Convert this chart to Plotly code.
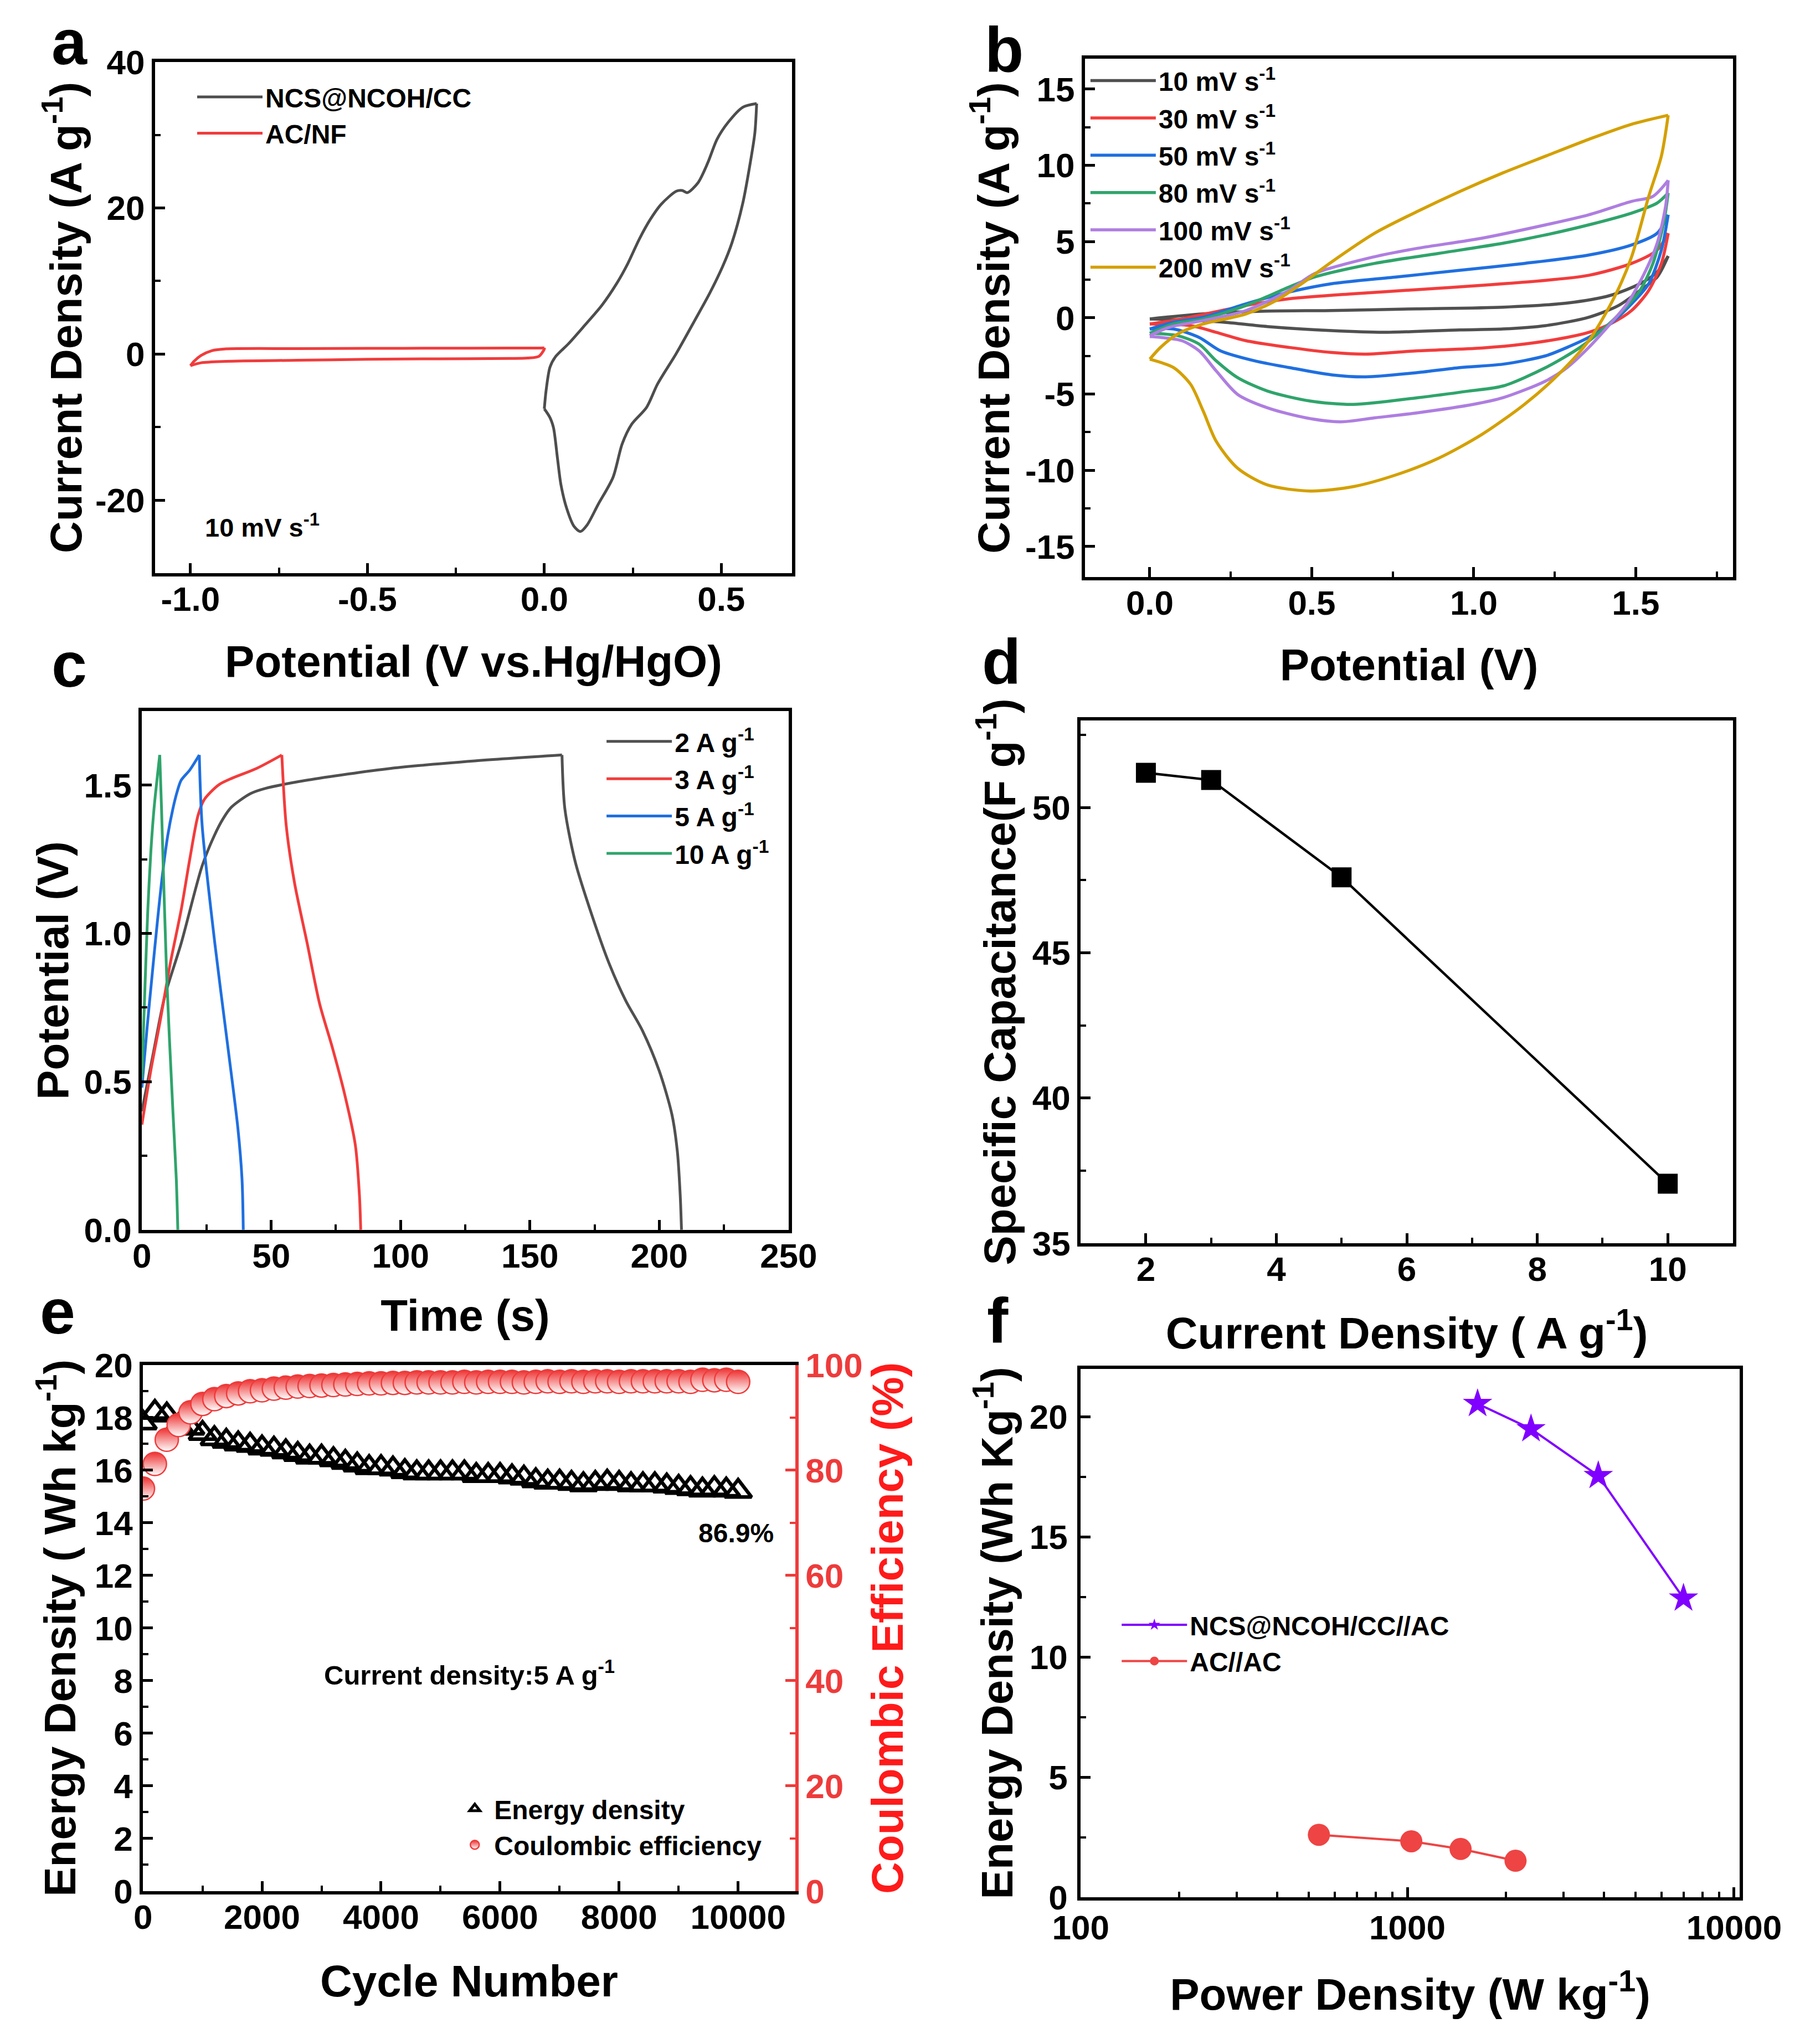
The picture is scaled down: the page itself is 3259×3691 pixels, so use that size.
import plotly.graph_objects as go

# ---------------- Panel a : CV of electrodes at 10 mV/s ----------------
a_ncs_v = [0, 0.005, 0.016, 0.031, 0.068, 0.11, 0.163, 0.205, 0.236, 0.268, 0.299, 0.33, 0.373, 0.39, 0.404,
           0.435, 0.462, 0.488, 0.519, 0.561, 0.6,
           0.595, 0.582, 0.561, 0.53, 0.504, 0.467, 0.425, 0.3725, 0.32, 0.289, 0.247, 0.22, 0.194, 0.152,
           0.121, 0.102, 0.084, 0.063, 0.047, 0.037, 0.026, 0.016, 0]
a_ncs_j = [-7.5, -5.0, -1.8, -0.4, 1.4, 3.7, 6.7, 9.7, 12.4, 15.7, 18.4, 20.5, 22.3, 22.4, 22.1,
           23.5, 26.2, 29.4, 31.7, 33.8, 34.3,
           30.3, 26.2, 20.7, 15.2, 12.0, 8.3, 4.6, 0.05, -4.1, -7.3, -9.6, -12.3, -16.9, -20.6,
           -23.4, -24.3, -23.6, -21.1, -17.9, -14.2, -10.1, -8.7, -7.5]
a_ac_v = [-1.0, -0.99, -0.97, -0.94, -0.9, -0.7, -0.5, -0.3, -0.1, -0.02, 0.0,
          0.0, -0.015, -0.047, -0.1, -0.3, -0.5, -0.7, -0.9, -0.97, -1.0]
a_ac_j = [-1.6, -1.0, -0.2, 0.45, 0.7, 0.75, 0.78, 0.8, 0.82, 0.83, 0.85,
          0.7, -0.3, -0.55, -0.6, -0.65, -0.72, -0.85, -1.0, -1.2, -1.6]

# ---------------- Panel b : CV at different scan rates ----------------
b10_v = [0, 0.165, 0.363, 0.562, 0.826, 1.090, 1.288, 1.421, 1.513, 1.566, 1.6,
         1.566, 1.513, 1.447, 1.355, 1.222, 1.090, 0.958, 0.720, 0.562, 0.363, 0.231, 0.099, 0]
b10_j = [-0.07, 0.26, 0.44, 0.48, 0.59, 0.70, 0.97, 1.47, 2.24, 3.01, 4.05,
         2.68, 1.80, 0.81, 0.04, -0.51, -0.73, -0.79, -0.95, -0.84, -0.57, -0.29, -0.13, -0.07]
b30_v = [0, 0.099, 0.297, 0.430, 0.628, 0.826, 1.024, 1.222, 1.355, 1.487, 1.566, 1.6,
         1.579, 1.540, 1.487, 1.421, 1.355, 1.288, 1.156, 1.024, 0.826, 0.667, 0.562, 0.430, 0.297, 0.205, 0.126, 0]
b30_j = [-0.40, -0.07, 0.81, 1.25, 1.58, 1.85, 2.13, 2.46, 2.79, 3.57, 4.45, 5.55,
         3.57, 1.80, 0.48, -0.40, -0.95, -1.28, -1.72, -1.98, -2.16, -2.38, -2.27, -1.94, -1.50, -0.95, -0.51, -0.40]
b50_v = [0, 0.073, 0.165, 0.297, 0.430, 0.562, 0.760, 0.958, 1.156, 1.355, 1.487, 1.566, 1.6,
         1.579, 1.540, 1.487, 1.421, 1.355, 1.288, 1.222, 1.090, 0.958, 0.826, 0.667, 0.562, 0.430, 0.324,
         0.218, 0.152, 0.073, 0]
b50_j = [-0.73, -0.29, 0.04, 0.92, 1.69, 2.24, 2.68, 3.12, 3.57, 4.12, 4.78, 5.55, 6.76,
         4.45, 2.24, 0.92, -0.40, -1.28, -1.94, -2.49, -3.04, -3.26, -3.59, -3.87, -3.74, -3.26, -2.82,
         -2.16, -1.28, -0.73, -0.73]
b80_v = [0, 0.073, 0.165, 0.297, 0.430, 0.509, 0.694, 0.892, 1.090, 1.222, 1.355, 1.487, 1.566, 1.6,
         1.586, 1.553, 1.513, 1.460, 1.394, 1.328, 1.222, 1.090, 0.985, 0.826, 0.628, 0.496, 0.363, 0.271,
         0.205, 0.152, 0.086, 0]
b80_j = [-1.01, -0.40, -0.07, 0.81, 2.02, 2.68, 3.57, 4.23, 4.89, 5.44, 6.10, 6.87, 7.53, 8.19,
         6.21, 3.57, 1.80, 0.48, -0.84, -1.94, -3.26, -4.47, -4.80, -5.24, -5.68, -5.46, -4.80, -3.92,
         -2.82, -1.72, -1.17, -1.01]
b100_v = [0, 0.059, 0.165, 0.297, 0.430, 0.509, 0.694, 0.826, 1.024, 1.222, 1.355, 1.487, 1.553, 1.6,
          1.592, 1.566, 1.526, 1.473, 1.421, 1.355, 1.288, 1.222, 1.090, 0.998, 0.826, 0.694, 0.588, 0.482,
          0.363, 0.271, 0.205, 0.152, 0.099, 0.033, 0]
b100_j = [-1.17, -0.62, -0.18, 0.48, 1.80, 2.90, 4.01, 4.56, 5.22, 6.10, 6.76, 7.64, 7.97, 9.02,
          7.31, 4.89, 2.90, 0.92, -0.40, -1.94, -3.26, -4.14, -5.24, -5.68, -6.23, -6.56, -6.82, -6.56,
          -5.90, -5.02, -3.48, -2.16, -1.50, -1.28, -1.23]
b200_v = [0, 0.033, 0.086, 0.165, 0.297, 0.390, 0.469, 0.562, 0.694, 0.826, 0.958, 1.090, 1.222, 1.355,
          1.487, 1.6,
          1.579, 1.540, 1.487, 1.434, 1.355, 1.262, 1.156, 1.024, 0.892, 0.760, 0.628, 0.496, 0.363, 0.271,
          0.205, 0.165, 0.126, 0.073, 0]
b200_j = [-2.71, -1.94, -1.06, -0.40, 0.26, 1.14, 2.24, 3.68, 5.55, 6.98, 8.30, 9.51, 10.61, 11.71,
          12.70, 13.29,
          10.61, 7.97, 4.0, 1.36, -1.50, -3.70, -5.68, -7.66, -9.20, -10.30, -11.07, -11.36, -10.96, -9.86,
          -8.10, -6.12, -4.36, -3.26, -2.71]
b_names = ["10 mV s<sup>-1</sup>", "30 mV s<sup>-1</sup>", "50 mV s<sup>-1</sup>",
           "80 mV s<sup>-1</sup>", "100 mV s<sup>-1</sup>", "200 mV s<sup>-1</sup>"]

# ---------------- Panel c : GCD curves ----------------
c2_t = [0, 4.5, 8.8, 15.2, 23.3, 28.0, 31.4, 34.5, 37.9, 42.0, 47.6, 63.9, 96.3, 128.7, 162.4,
        163.5, 167.6, 174.1, 180.6, 187.0, 193.5, 200.0, 204.9, 207.0, 208.1, 208.6]
c2_v = [0.40, 0.60, 0.786, 0.967, 1.228, 1.33, 1.387, 1.425, 1.449, 1.472, 1.489, 1.517, 1.557, 1.582, 1.602,
        1.421, 1.239, 1.058, 0.899, 0.774, 0.672, 0.536, 0.389, 0.264, 0.117, 0.0]
c3_t = [0, 3.5, 7.1, 11.0, 15.2, 18.5, 21.7, 24.0, 26.6, 30.0, 34.7, 44.4, 54.1,
        55.8, 59.0, 63.9, 68.7, 73.6, 78.4, 82.5, 84.1, 84.6]
c3_v = [0.355, 0.54, 0.706, 0.90, 1.08, 1.25, 1.398, 1.45, 1.477, 1.503, 1.523, 1.557, 1.602,
        1.364, 1.171, 0.967, 0.763, 0.616, 0.457, 0.287, 0.117, 0.0]
c5_t = [0, 2.0, 3.9, 6.0, 7.9, 10.0, 12.0, 13.7, 15.2, 18.5, 22.2,
        23.3, 28.2, 33.1, 37.1, 38.7, 39.2]
c5_v = [0.48, 0.68, 0.854, 1.04, 1.194, 1.33, 1.421, 1.48, 1.517, 1.551, 1.602,
        1.364, 0.967, 0.627, 0.344, 0.173, 0.0]
c10_t = [0, 1.2, 2.3, 3.5, 4.7, 6.9, 7.6, 9.6, 12.0, 13.3, 13.9]
c10_v = [0.51, 0.82, 1.08, 1.28, 1.421, 1.602, 1.42, 0.854, 0.40, 0.173, 0.0]
c_names = ["2 A g<sup>-1</sup>", "3 A g<sup>-1</sup>", "5 A g<sup>-1</sup>", "10 A g<sup>-1</sup>"]

# ---------------- Panel d : rate capability ----------------
d_current = [2, 3, 5, 10]
d_cap = [51.2, 50.95, 47.6, 37.05]

# ---------------- Panel e : cycling ----------------
e_cycle = [0, 200, 400, 600, 800, 1000, 1200, 1400, 1600, 1800, 2000, 2200, 2400, 2600, 2800, 3000,
           3200, 3400, 3600, 3800, 4000, 4200, 4400, 4600, 4800, 5000, 5200, 5400, 5600, 5800, 6000,
           6200, 6400, 6600, 6800, 7000, 7200, 7400, 7600, 7800, 8000, 8200, 8400, 8600, 8800, 9000,
           9200, 9400, 9600, 9800, 10000]
e_energy = [17.8, 18.2, 18.1, 17.7, 17.6, 17.4, 17.2, 17.1, 17.0, 16.95, 16.85, 16.8, 16.7, 16.6, 16.5,
            16.5, 16.4, 16.3, 16.2, 16.1, 16.1, 16.05, 15.95, 15.9, 15.9, 15.9, 15.9, 15.9, 15.8, 15.8,
            15.8, 15.75, 15.7, 15.6, 15.55, 15.55, 15.5, 15.45, 15.5, 15.55, 15.5, 15.45, 15.45, 15.45,
            15.4, 15.35, 15.3, 15.25, 15.3, 15.25, 15.2]
e_ce = [76.5, 81.2, 85.8, 88.6, 91.0, 92.6, 93.5, 94.1, 94.6, 95.0, 95.2, 95.5, 95.7, 95.9, 96.0, 96.1,
        96.2, 96.3, 96.4, 96.5, 96.5, 96.6, 96.6, 96.7, 96.7, 96.7, 96.7, 96.8, 96.7, 96.8, 96.8, 96.8,
        96.7, 96.8, 96.9, 96.8, 96.9, 96.8, 96.9, 96.9, 96.8, 96.9, 96.9, 96.9, 96.9, 96.9, 96.8, 97.2,
        97.1, 97.2, 96.8]

# ---------------- Panel f : Ragone ----------------
f_ncs_power = [1640, 2390, 3840, 7000]
f_ncs_energy = [20.55, 19.5, 17.55, 12.45]
f_ac_power = [536, 1028, 1455, 2143]
f_ac_energy = [2.6, 2.33, 2.01, 1.52]

FONT = "Liberation Sans, Arial, Helvetica, sans-serif"
TICK = 62
TITLE = 80
LEG = 48

fig = go.Figure()


def add_loop(x, y, split, name, color, width, xa, ya, leg):
    """Draw a closed curve as two smooth branches split at a turning vertex."""
    branches = [(x[:split + 1], y[:split + 1]), (x[split:], y[split:])]
    for k, (bx, by) in enumerate(branches):
        fig.add_trace(go.Scatter(x=bx, y=by, mode="lines", name=name, showlegend=(k == 0),
                                 legendgroup=name, line=dict(color=color, width=width, shape="spline",
                                                             smoothing=0.8),
                                 xaxis=xa, yaxis=ya, legend=leg))


# panel a
add_loop(a_ncs_v, a_ncs_j, a_ncs_v.index(max(a_ncs_v)), "NCS@NCOH/CC", "#4d4d4d", 5, "x", "y", "legend")
add_loop(a_ac_v, a_ac_j, a_ac_v.index(max(a_ac_v)), "AC/NF", "#f03c3c", 5, "x", "y", "legend")

# panel b
b_cols = ["#505050", "#f23c3c", "#1f6fe0", "#2fa46b", "#ae7ee0", "#d4a000"]
for nm, vv, jj, col in zip(b_names, [b10_v, b30_v, b50_v, b80_v, b100_v, b200_v],
                           [b10_j, b30_j, b50_j, b80_j, b100_j, b200_j], b_cols):
    add_loop(vv, jj, vv.index(max(vv)), nm, col, 5.5, "x2", "y2", "legend2")

# panel c
c_cols = ["#505050", "#f23c3c", "#1f6fe0", "#2fa46b"]
for nm, tt, vv, col in zip(c_names, [c2_t, c3_t, c5_t, c10_t], [c2_v, c3_v, c5_v, c10_v], c_cols):
    add_loop(tt, vv, vv.index(max(vv)), nm, col, 5, "x3", "y3", "legend3")

# panel d
fig.add_trace(go.Scatter(x=d_current, y=d_cap, mode="lines+markers", showlegend=False,
                         line=dict(color="black", width=4.5),
                         marker=dict(symbol="square", size=36, color="black"),
                         xaxis="x4", yaxis="y4"))

# panel e
fig.add_trace(go.Scatter(x=e_cycle, y=e_energy, mode="markers", name="Energy density",
                         marker=dict(symbol="triangle-up-open", size=42, color="black",
                                     line=dict(color="black", width=6.5)),
                         xaxis="x5", yaxis="y5", legend="legend5", legendgroup="ed"))
fig.add_trace(go.Scatter(x=e_cycle, y=e_ce, mode="markers", name="Coulombic efficiency",
                         marker=dict(symbol="circle", size=42, color="#ee3030",
                                     gradient=dict(type="vertical", color="white"),
                                     line=dict(color="#ee3b3b", width=2.5)),
                         xaxis="x5", yaxis="y7", legend="legend5", legendgroup="ce"))

# panel f
fig.add_trace(go.Scatter(x=f_ncs_power, y=f_ncs_energy, mode="lines+markers", name="NCS@NCOH/CC//AC",
                         line=dict(color="#8000ff", width=4),
                         marker=dict(symbol="star", size=40, color="#8000ff"),
                         xaxis="x6", yaxis="y6", legend="legend6", legendgroup="f1"))
fig.add_trace(go.Scatter(x=f_ac_power, y=f_ac_energy, mode="lines+markers", name="AC//AC",
                         line=dict(color="#ee4444", width=4),
                         marker=dict(symbol="circle", size=40, color="#ee4444"),
                         xaxis="x6", yaxis="y6", legend="legend6", legendgroup="f2"))


def ax(domain, rng, title, dtick=None, minor_dtick=None, anchor=None, standoff=20, **kw):
    d = dict(domain=domain, range=rng, showline=True, linewidth=6, linecolor="black", mirror=True,
             ticks="inside", ticklen=18, tickwidth=5, tickcolor="black", automargin=False,
             tickfont=dict(size=TICK, family=FONT, color="black", weight="bold"),
             showgrid=False, zeroline=False, anchor=anchor,
             title=dict(text=title, font=dict(size=TITLE, family=FONT, color="black", weight="bold"),
                        standoff=standoff))
    if dtick is not None:
        d["dtick"] = dtick
    if minor_dtick is not None:
        d["minor"] = dict(ticks="inside", ticklen=10, tickwidth=4, tickcolor="black",
                          dtick=minor_dtick, showgrid=False)
    d.update(kw)
    return d


XL = -12  # tick labels of x axes sit a little closer to the frame

layout = dict(
    width=3259, height=3691, margin=dict(l=0, r=0, t=0, b=0, autoexpand=False),
    paper_bgcolor="white", plot_bgcolor="white",
    font=dict(family=FONT, color="black", weight="bold"),
    xaxis=ax([0.0859, 0.4388], [-1.1, 0.7], "Potential (V vs.Hg/HgO)", 0.5, 0.25, "y", standoff=53,
             ticklabelstandoff=XL,
             tickvals=[-1.0, -0.5, 0.0, 0.5], ticktext=["-1.0", "-0.5", "0.0", "0.5"]),
    yaxis=ax([0.7196, 0.9697], [-30, 40], "Current Density (A g<sup>-1</sup>)", 20, 10, "x", standoff=0,
             tickvals=[-20, 0, 20, 40], ticktext=["-20", "0", "20", "40"]),
    xaxis2=ax([0.6011, 0.9601], [-0.2, 1.8], "Potential (V)", 0.5, 0.25, "y2", standoff=52,
              ticklabelstandoff=XL, tickformat=".1f"),
    yaxis2=ax([0.7177, 0.9713], [-17, 17], "Current Density (A g<sup>-1</sup>)", 5, 2.5, "x2", standoff=4,
              tickvals=[-15, -10, -5, 0, 5, 10, 15], ticktext=["-15", "-10", "-5", "0", "5", "10", "15"]),
    xaxis3=ax([0.0786, 0.4369], [0, 250], "Time (s)", 50, 25, "y3", standoff=48, ticklabelstandoff=XL),
    yaxis3=ax([0.3983, 0.6521], [0, 1.75], "Potential (V)", 0.5, 0.25, "x3", standoff=4, tickformat=".1f"),
    xaxis4=ax([0.5987, 0.9601], [1, 11], "Current Density ( A g<sup>-1</sup>)", 2, 1, "y4", standoff=56,
              ticklabelstandoff=XL),
    yaxis4=ax([0.3918, 0.6475], [35, 53], "Specific Capacitance(F g<sup>-1</sup>)", 5, 2.5, "x4", standoff=6),
    xaxis5=ax([0.0792, 0.4406], [0, 10960], "Cycle Number", 2000, 1000, "y5", standoff=56,
              ticklabelstandoff=XL, tickformat="d"),
    yaxis5=ax([0.0748, 0.3322], [0, 20], "Energy Density ( Wh kg<sup>-1</sup>)", 2, 1, "x5", standoff=10,
              mirror=False),
    yaxis7=dict(overlaying="y5", side="right", anchor="x5", range=[0, 100], dtick=20, automargin=False,
                showline=True, linewidth=6, linecolor="#ee3b3b", ticks="inside", ticklen=18, tickwidth=5,
                tickcolor="#ee3b3b", showgrid=False, zeroline=False,
                minor=dict(ticks="inside", ticklen=10, tickwidth=4, tickcolor="#ee3b3b", dtick=10),
                tickfont=dict(size=TICK, family=FONT, color="#ee3b3b", weight="bold"),
                title=dict(text="Coulombic Efficiency (%)", standoff=16,
                           font=dict(size=TITLE, family=FONT, color="#ff1a1a", weight="bold"))),
    xaxis6=ax([0.5987, 0.9638], [2, 4.017], "Power Density (W kg<sup>-1</sup>)", None, None, "y6",
              standoff=61, ticklabelstandoff=-4,
              type="log", tickvals=[100, 1000, 10000], ticktext=["100", "1000", "10000"],
              minor=dict(ticks="inside", ticklen=10, tickwidth=4, tickcolor="black", showgrid=False,
                         tickvals=[200, 300, 400, 500, 600, 700, 800, 900,
                                   2000, 3000, 4000, 5000, 6000, 7000, 8000, 9000])),
    yaxis6=ax([0.0718, 0.3303], [0, 22], "Energy Density (Wh Kg<sup>-1</sup>)", 5, 2.5, "x6", standoff=6,
              ticklabelstandoff=5),
)

leg_common = dict(bgcolor="rgba(0,0,0,0)", borderwidth=0, xanchor="left", yanchor="top",
                  font=dict(size=LEG, family=FONT, color="black", weight="bold"))
layout["legend"] = dict(x=0.1077, y=0.9628, itemwidth=118, tracegroupgap=0, **leg_common)
layout["legend2"] = dict(x=0.6026, y=0.9708, itemwidth=118, tracegroupgap=2, **leg_common)
layout["legend3"] = dict(x=0.3345, y=0.6475, itemwidth=118, tracegroupgap=2, **leg_common)
layout["legend5"] = dict(x=0.2523, y=0.1254, itemwidth=60, tracegroupgap=0, **leg_common)
layout["legend6"] = dict(x=0.6199, y=0.2153, itemwidth=118, tracegroupgap=0, **leg_common)

letters = [("a", 0.0384, 0.9794), ("b", 0.5563, 0.9756), ("c", 0.0384, 0.6749),
           ("d", 0.5548, 0.6763), ("e", 0.0319, 0.3584), ("f", 0.5529, 0.3538)]
annos = [dict(text=t, x=x, y=y, xref="paper", yref="paper", showarrow=False, xanchor="center",
              yanchor="middle", font=dict(size=115, family=FONT, color="black", weight="bold"))
         for t, x, y in letters]
annos += [
    dict(text="10 mV s<sup>-1</sup>", x=0.1129, y=0.7429, xref="paper", yref="paper", showarrow=False,
         xanchor="left", yanchor="middle", font=dict(size=47, family=FONT, color="black", weight="bold")),
    dict(text="Current density:5 A g<sup>-1</sup>", x=0.1789, y=0.1815, xref="paper", yref="paper",
         showarrow=False, xanchor="left", yanchor="middle",
         font=dict(size=49, family=FONT, color="black", weight="bold")),
    dict(text="86.9%", x=0.3863, y=0.2498, xref="paper", yref="paper", showarrow=False,
         xanchor="left", yanchor="middle", font=dict(size=48, family=FONT, color="black", weight="bold")),
]
layout["annotations"] = annos

fig.update_layout(**layout)
fig.write_html("out.html")
